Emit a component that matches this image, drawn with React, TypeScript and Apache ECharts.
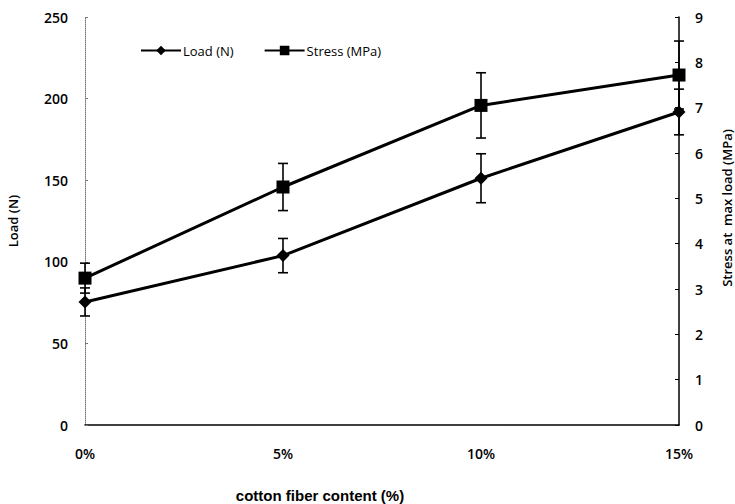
import React, { useEffect, useRef } from "react";
import * as echarts from "echarts";

const categories = ["0%", "5%", "10%", "15%"];
const loadValues = [75.4, 103.8, 151.2, 191.8];
const loadErrors = [8.6, 10.5, 15, 14];
const stressValues = [3.24, 5.25, 7.05, 7.72];
const stressErrors = [0.33, 0.52, 0.72, 0.75];

const FONT = "'Open Sans', 'Liberation Sans', sans-serif";

function errorSeries(values: number[], errors: number[], yAxisIndex: number) {
  return {
    type: "custom",
    yAxisIndex,
    silent: true,
    z: 1,
    data: values.map((v, i) => [i, v - errors[i], v + errors[i]]),
    renderItem: (params: any, api: any) => {
      const lo = api.coord([api.value(0), api.value(1)]);
      const hi = api.coord([api.value(0), api.value(2)]);
      const cap = 5;
      const style = { stroke: "#000", lineWidth: 1.6 };
      return {
        type: "group",
        children: [
          { type: "line", shape: { x1: lo[0], y1: lo[1], x2: hi[0], y2: hi[1] }, style },
          { type: "line", shape: { x1: lo[0] - cap, y1: lo[1], x2: lo[0] + cap, y2: lo[1] }, style },
          { type: "line", shape: { x1: hi[0] - cap, y1: hi[1], x2: hi[0] + cap, y2: hi[1] }, style },
        ],
      };
    },
  };
}

export default function App() {
  const ref = useRef<HTMLDivElement>(null);

  useEffect(() => {
    document.body.style.margin = "0";
    document.body.style.overflow = "hidden";
    if (!ref.current) return;
    const chart = echarts.init(ref.current, null, { renderer: "svg" });
    chart.setOption({
      animation: false,
      backgroundColor: "#fff",
      textStyle: { fontFamily: FONT },
      grid: { left: 85, right: 56, top: 17, bottom: 79, outerBoundsMode: "none" },
      legend: {
        left: 135,
        top: 39,
        itemGap: 30,
        itemWidth: 40,
        itemHeight: 12,
        textStyle: { fontFamily: FONT, fontSize: 13, color: "#000", padding: [0, 0, 0, -3] },
        data: ["Load (N)", "Stress (MPa)"],
      },
      xAxis: {
        type: "category",
        data: categories,
        boundaryGap: false,
        axisLine: { lineStyle: { color: "#000", width: 1.5 } },
        axisTick: { show: false },
        axisLabel: { fontFamily: FONT, fontSize: 14, fontWeight: 600, color: "#000", margin: 21 },
        name: "cotton fiber content (%)",
        nameLocation: "middle",
        nameGap: 63,
        nameTextStyle: {
          fontFamily: "'Liberation Sans', Arial, sans-serif",
          fontSize: 15,
          fontWeight: "bold",
          color: "#000",
          padding: [0, 124, 0, 0],
        },
      },
      yAxis: [
        {
          type: "value",
          min: 0,
          max: 250,
          interval: 50,
          splitLine: { show: false },
          axisLine: { show: true, lineStyle: { color: "#777", width: 1, type: "dotted" } },
          axisTick: { show: true, inside: true, length: 3, lineStyle: { color: "#777" } },
          axisLabel: { fontFamily: FONT, fontSize: 14, fontWeight: 600, color: "#000", margin: 17 },
          name: "Load (N)",
          nameLocation: "middle",
          nameGap: 66,
          nameTextStyle: { fontFamily: FONT, fontSize: 13, fontWeight: 600, color: "#000" },
        },
        {
          type: "value",
          min: 0,
          max: 9,
          interval: 1,
          splitLine: { show: false },
          axisLine: { show: true, lineStyle: { color: "#000", width: 1.5 } },
          axisTick: { show: true, inside: true, length: 4, lineStyle: { color: "#000" } },
          axisLabel: { fontFamily: FONT, fontSize: 14, fontWeight: 600, color: "#000", margin: 16 },
          name: "Stress at  max load (MPa)",
          nameLocation: "middle",
          nameGap: 41,
          nameRotate: 90,
          nameTextStyle: {
            fontFamily: FONT,
            fontSize: 13,
            fontWeight: 600,
            color: "#000",
            lineHeight: 14,
            padding: [0, 0, 0, 26],
          },
        },
      ],
      series: [
        errorSeries(loadValues, loadErrors, 0),
        errorSeries(stressValues, stressErrors, 1),
        {
          name: "Load (N)",
          type: "line",
          yAxisIndex: 0,
          data: loadValues,
          symbol: "diamond",
          symbolSize: 13,
          z: 3,
          lineStyle: { color: "#000", width: 3 },
          itemStyle: { color: "#000" },
        },
        {
          name: "Stress (MPa)",
          type: "line",
          yAxisIndex: 1,
          data: stressValues,
          symbol: "rect",
          symbolSize: 13,
          z: 3,
          lineStyle: { color: "#000", width: 3 },
          itemStyle: { color: "#000" },
        },
      ],
    });
    return () => chart.dispose();
  }, []);

  return <div ref={ref} style={{ width: 735, height: 504 }} />;
}
